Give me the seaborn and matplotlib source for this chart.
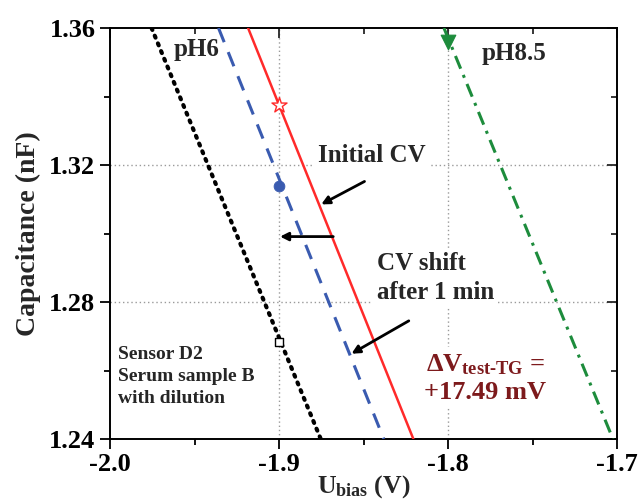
import numpy as np
import pandas as pd
import matplotlib
matplotlib.use("Agg")
import matplotlib.pyplot as plt
import seaborn as sns

# ---------------- data ----------------
cap_ends = [1.36, 1.24]                      # capacitance at the two line ends (nF)
bias_ph6 = [-1.9754, -1.8753]                # pH6 reference CV (black dotted)
bias_shift = [-1.9358, -1.8380]              # CV shift after 1 min (blue dashed)
bias_initial = [-1.9183, -1.8205]            # initial CV (red solid)
bias_ph85 = [-1.8024, -1.7024]               # pH8.5 reference CV (green dash-dot)

mark_bias = [-1.9, -1.9, -1.9, -1.8]
mark_cap = [1.3375, 1.3138, 1.2684, 1.3559]

xticks = [-2.0, -1.9, -1.8, -1.7]
xtick_labels = ["-2.0", "-1.9", "-1.8", "-1.7"]
yticks = [1.24, 1.28, 1.32, 1.36]
ytick_labels = ["1.24", "1.28", "1.32", "1.36"]

# ---------------- style ----------------
sns.set_style("ticks")
plt.rcParams["font.family"] = ["Liberation Serif", "DejaVu Serif"]
plt.rcParams["font.weight"] = "bold"
plt.rcParams["mathtext.fontset"] = "custom"
plt.rcParams["mathtext.rm"] = "Liberation Serif:bold"
plt.rcParams["mathtext.it"] = "Liberation Serif:bold"
plt.rcParams["mathtext.bf"] = "Liberation Serif:bold"
plt.rcParams["mathtext.default"] = "rm"

fig = plt.figure(figsize=(6.38, 5.0), dpi=100)
ax = fig.add_axes([110 / 638, 1 - 439 / 500, (617 - 110) / 638, (439 - 28) / 500])

RED = "#ff2a2a"
BLUE = "#3a5bb0"
GREEN = "#1d8c3c"
DARKRED = "#7d1a1c"

# grid at major ticks only (dotted, light gray)
for xv in xticks[1:-1]:
    ax.axvline(xv, color="#9a9a9a", lw=1.0, ls=(0, (1, 2)), zorder=0)
for yv in yticks[1:-1]:
    ax.axhline(yv, color="#9a9a9a", lw=1.0, ls=(0, (1, 2)), zorder=0)

lines = pd.DataFrame({
    "bias": bias_ph6 + bias_shift + bias_initial + bias_ph85,
    "cap": cap_ends * 4,
    "curve": ["ph6"] * 2 + ["shift"] * 2 + ["initial"] * 2 + ["ph85"] * 2,
})

sns.lineplot(data=lines[lines.curve == "ph6"], x="bias", y="cap", ax=ax,
             color="black", lw=3.0, linestyle=(0, (0.5, 1.5)), dash_capstyle="round",
             sort=False, estimator=None, zorder=3)
sns.lineplot(data=lines[lines.curve == "shift"], x="bias", y="cap", ax=ax,
             color=BLUE, lw=2.2, linestyle=(0, (5, 3.5)),
             sort=False, estimator=None, zorder=3)
sns.lineplot(data=lines[lines.curve == "initial"], x="bias", y="cap", ax=ax,
             color=RED, lw=1.8, linestyle="-",
             sort=False, estimator=None, zorder=3)
sns.lineplot(data=lines[lines.curve == "ph85"], x="bias", y="cap", ax=ax,
             color=GREEN, lw=2.2, linestyle=(0, (4.5, 2.2, 1, 2.2)),
             sort=False, estimator=None, zorder=3)

# markers
sns.scatterplot(x=[mark_bias[0]], y=[mark_cap[0]], ax=ax, marker="*", s=130,
                facecolor="white", edgecolor=RED, linewidth=1.0, zorder=5)
sns.scatterplot(x=[mark_bias[1]], y=[mark_cap[1]], ax=ax, marker="o", s=60,
                color=BLUE, edgecolor=BLUE, zorder=5)
sns.scatterplot(x=[mark_bias[2]], y=[mark_cap[2]], ax=ax, marker="s", s=38,
                facecolor="white", edgecolor="black", linewidth=1.0, zorder=5)
sns.scatterplot(x=[mark_bias[3]], y=[mark_cap[3]], ax=ax, marker="v", s=110,
                color=GREEN, edgecolor=GREEN, zorder=5, clip_on=False)

# axes
ax.set_xlim(-2.0, -1.7)
ax.set_ylim(1.24, 1.36)
ax.set_xticks(xticks)
ax.set_xticklabels(xtick_labels)
ax.set_yticks(yticks)
ax.set_yticklabels(ytick_labels)
ax.set_xticks([-1.95, -1.85, -1.75], minor=True)
ax.set_yticks([1.34, 1.30, 1.26], minor=True)
for sp in ax.spines.values():
    sp.set_visible(True)
    sp.set_linewidth(1.4)
    sp.set_color("black")
ax.tick_params(which="both", labelsize=19, width=1.3, colors="black")
ax.tick_params(which="major", length=7)
ax.tick_params(which="minor", length=4)
ax.tick_params(which="both", direction="out", top=False, right=False)
ax.tick_params(axis="x", which="major", pad=3)
ax2x = ax.secondary_xaxis("top")
ax2x.set_xticks(xticks)
ax2x.set_xticks([-1.95, -1.85, -1.75], minor=True)
ax2x.tick_params(which="both", direction="in", labeltop=False, width=1.3)
ax2x.tick_params(which="major", length=7)
ax2x.tick_params(which="minor", length=4)
ax2x.spines["top"].set_visible(False)
ax2y = ax.secondary_yaxis("right")
ax2y.set_yticks(yticks)
ax2y.set_yticks([1.34, 1.30, 1.26], minor=True)
ax2y.tick_params(which="both", direction="in", labelright=False, width=1.3)
ax2y.tick_params(which="major", length=7)
ax2y.tick_params(which="minor", length=4)
ax2y.spines["right"].set_visible(False)
for lab in ax.get_xticklabels() + ax.get_yticklabels():
    lab.set_fontweight("bold")

ax.set_xlabel(r"U$_{\mathrm{bias}}$ (V)", fontsize=18.5, fontweight="bold")
ax.xaxis.set_label_coords(0.5, -0.083)
ax.xaxis.label.set_va("top")
ax.set_ylabel("Capacitance (nF)", fontsize=20, fontweight="bold", labelpad=6)

# annotations
box = dict(boxstyle="square,pad=0.15", facecolor="white", edgecolor="none")
ax.text(-1.949, 1.3536, "pH6", fontsize=18, fontweight="bold", ha="center", va="center")
ax.text(-1.7607, 1.3525, "pH8.5", fontsize=18, fontweight="bold", ha="center", va="center")
ax.text(-1.8452, 1.3228, "Initial CV", fontsize=18, fontweight="bold",
        ha="center", va="center", bbox=box, zorder=2)
ax.text(-1.8420, 1.2870, "CV shift\nafter 1 min", fontsize=18, fontweight="bold",
        ha="left", va="center", linespacing=1.35, bbox=box, zorder=2)
ax.text(-1.9955, 1.2582, "Sensor D2\nSerum sample B\nwith dilution", fontsize=14,
        fontweight="bold", ha="left", va="center", linespacing=1.4, zorder=2)
ax.text(-1.778, 1.2578, "ΔV$_{\\mathrm{test\u2010TG}}$ =\n+17.49 mV", fontsize=19,
        fontweight="bold", color=DARKRED, ha="center", va="center",
        linespacing=1.25, bbox=box, zorder=2)

arrow = dict(arrowstyle="-|>", color="black", lw=2.0, mutation_scale=12,
             shrinkA=0, shrinkB=0)
ax.annotate("", xy=(-1.875, 1.3085), xytext=(-1.8494, 1.3152), arrowprops=arrow, zorder=6)
ax.annotate("", xy=(-1.8994, 1.2991), xytext=(-1.8679, 1.2991), arrowprops=arrow, zorder=6)
ax.annotate("", xy=(-1.8571, 1.2649), xytext=(-1.8232, 1.2745), arrowprops=arrow, zorder=6)

fig.savefig("out.png", dpi=100)
